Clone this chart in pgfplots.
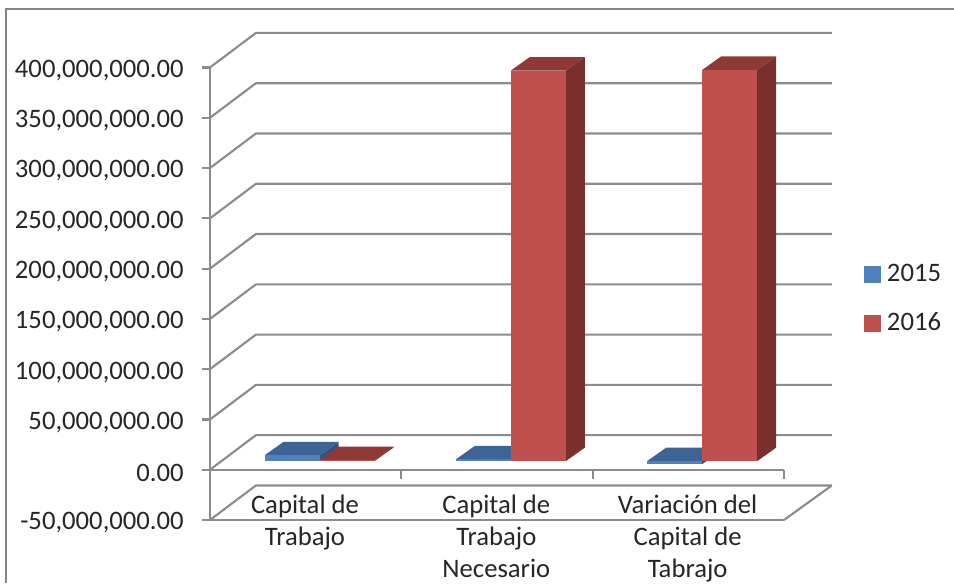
\documentclass[border=0pt]{standalone}
\usepackage{fontspec}
\setmainfont{Carlito}
\usepackage{pgfplots}
\pgfplotsset{compat=1.18}
\definecolor{gridgray}{HTML}{8C8C8C}
\definecolor{framegray}{HTML}{868686}
\definecolor{labeltext}{HTML}{262626}
\definecolor{blueF}{HTML}{4F81BD}
\definecolor{blueT}{HTML}{3C6494}
\definecolor{blueS}{HTML}{2F5480}
\definecolor{redF}{HTML}{C0504D}
\definecolor{redT}{HTML}{8E3936}
\definecolor{redS}{HTML}{7B2F2D}

% Wall depth, as an offset along both axes (categories, millions)
\def\wallDX{0.24}
\def\wallDY{34.35}
% Bar depth and the offset of the bars from the front plane
\def\barDX{0.0993}
\def\barDY{13.44}
\def\barLift{8.56}
\def\barW{0.2875}

% One gridline running over the side wall and along the back wall
\newcommand{\wallLine}[1]{%
  \pgfmathsetmacro\backY{#1+\wallDY}%
  \addplot[gridgray,line width=1.6pt,forget plot] coordinates
    {(0,#1e6) (\wallDX,\backY e6) (3.25,\backY e6)};%
}
% One box: left edge, value in millions, colours of front, top and side
\newcommand{\barbox}[5]{%
  \pgfmathsetmacro\xA{#1}%
  \pgfmathsetmacro\xB{#1+\barW}%
  \pgfmathsetmacro\xAb{\xA+\barDX}%
  \pgfmathsetmacro\xBb{\xB+\barDX}%
  \pgfmathsetmacro\yT{max(#2,0)+\barLift}%
  \pgfmathsetmacro\yB{min(#2,0)+\barLift}%
  \pgfmathsetmacro\yTb{\yT+\barDY}%
  \pgfmathsetmacro\yBb{\yB+\barDY}%
  \addplot[fill=#5,draw=none,forget plot] coordinates
    {(\xB,\yB e6) (\xBb,\yBb e6) (\xBb,\yTb e6) (\xB,\yT e6)} --cycle;%
  \addplot[fill=#4,draw=none,forget plot] coordinates
    {(\xA,\yT e6) (\xB,\yT e6) (\xBb,\yTb e6) (\xAb,\yTb e6)} --cycle;%
  \addplot[fill=#3,draw=none,forget plot] coordinates
    {(\xA,\yB e6) (\xB,\yB e6) (\xB,\yT e6) (\xA,\yT e6)} --cycle;%
}

\begin{document}
\begin{tikzpicture}
\path[use as bounding box,clip] (-157.5pt,-47.25pt) rectangle (558pt,390pt);
\draw[framegray,line width=1.6pt] (-153pt,-47.25pt) -- (-153pt,383.25pt) -- (558pt,383.25pt);
\begin{axis}[
  at={(0pt,0pt)},anchor=south west,
  scale only axis,width=430.5pt,height=339.4pt,
  xmin=0,xmax=3,ymin=-50000000,ymax=400000000,
  clip=false,
  axis x line=bottom,axis y line=left,
  axis line style={gridgray,line width=1.6pt,-},
  tick align=outside,
  major tick length=6pt,
  xtick={0.5,1.5,2.5},
  xticklabels={{Capital de\\Trabajo},{Capital de\\Trabajo\\Necesario},{Variaci\'on del\\Capital de\\Tabrajo}},
  x tick style={draw=none},
  xticklabel style={align=center,anchor=north,xshift=-0.5pt,yshift=28.25pt,font=\fontsize{20}{24}\selectfont,text=labeltext},
  ytick={-50000000,0,50000000,100000000,150000000,200000000,250000000,300000000,350000000,400000000},
  y tick style={gridgray,line width=1.6pt},
  yticklabel style={font=\fontsize{20}{24}\selectfont,text=labeltext,xshift=-10.2pt,yshift=-2.2pt,
    /pgf/number format/.cd,fixed,fixed zerofill,precision=2,1000 sep={,},assume math mode=true},
  scaled y ticks=false,
  legend style={at={(1.139,0.489)},anchor=west,draw=none,fill=none,inner sep=0pt,outer sep=0pt,
    font=\fontsize{20}{24}\selectfont,text=labeltext,
    /tikz/every odd column/.append style={column sep=3pt},
    /tikz/row sep=17.75pt},
  legend cell align=left,
  legend image code/.code={\fill[#1] (0pt,-6pt) rectangle (12pt,6pt);},
]
\addlegendimage{blueF}
\addlegendentry{2015}
\addlegendimage{redF}
\addlegendentry{2016}

% Walls and floor
\wallLine{-50}
\wallLine{0}
\wallLine{50}
\wallLine{100}
\wallLine{150}
\wallLine{200}
\wallLine{250}
\wallLine{300}
\wallLine{350}
\wallLine{400}
\addplot[gridgray,line width=1.6pt,forget plot] coordinates {(3,-50e6) (3.25,-15.65e6)};
\addplot[gridgray,line width=1.6pt,forget plot] coordinates {(0,0) (3,0)};
% Category separators below the zero line
\addplot[gridgray,line width=1.6pt,forget plot] coordinates {(1,0) (1,-9e6)};
\addplot[gridgray,line width=1.6pt,forget plot] coordinates {(2,0) (2,-9e6)};
\addplot[gridgray,line width=1.6pt,forget plot] coordinates {(3,0) (3,-9e6)};

% Bars, one pair for each category
\barbox{0.285}{5.7}{blueF}{blueT}{blueS}
\barbox{0.5725}{1}{redF}{redT}{redS}
\barbox{1.285}{1.7}{blueF}{blueT}{blueS}
\barbox{1.5725}{388.4}{redF}{redT}{redS}
\barbox{2.285}{-3}{blueF}{blueT}{blueS}
\barbox{2.5725}{389}{redF}{redT}{redS}
\end{axis}
\end{tikzpicture}
\end{document}
